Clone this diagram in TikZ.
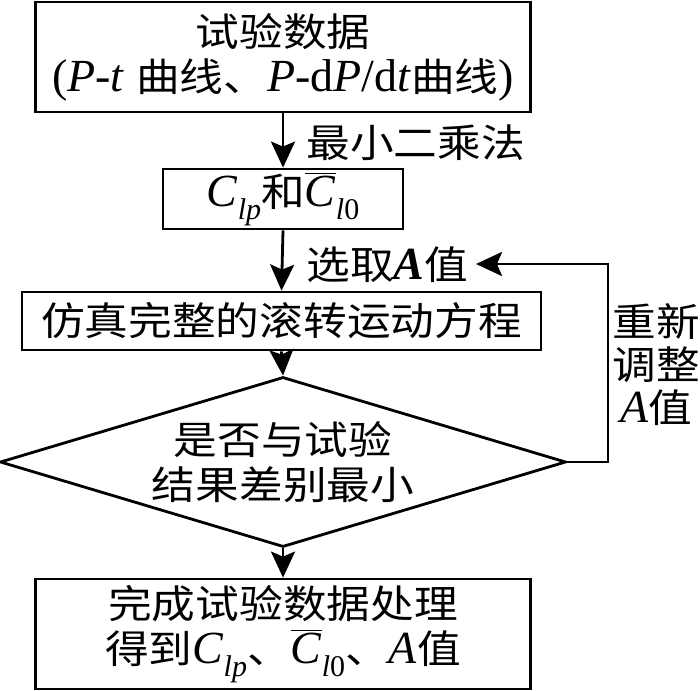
\documentclass[tikz,border=0pt]{standalone}
\usepackage{fontspec}
\setmainfont{Liberation Serif}
\newfontfamily\cjk[FakeStretch=1.12]{Noto Sans CJK SC}
\usetikzlibrary{arrows.meta,shapes.geometric}

\newcommand\lat[1]{{\rmfamily\fontsize{23}{22.5}\selectfont #1}}
\newcommand\Clp{\lat{\textit{C}\raisebox{-0.6ex}{\fontsize{15}{15}\selectfont\textit{lp}}}}
\newcommand\Clo{\lat{$\overline{\mbox{\textit{C}}}$\raisebox{-0.6ex}{\fontsize{15}{15}\selectfont\textit{l}0}}}

\begin{document}
\begin{tikzpicture}[x=0.5pt, y=-0.5pt, line width=1.4pt,
    box/.style={draw, inner sep=0pt, align=center, font=\cjk\fontsize{19.5}{22.5}\selectfont},
    note/.style={inner sep=0pt, align=center, font=\cjk\fontsize{19.5}{21.5}\selectfont},
    link/.style={-{Stealth[length=13pt, width=12pt, inset=2.5pt]}}]
    \useasboundingbox (0,0) rectangle (700,690);
    \pgfmathsetmacro{\mid}{283}
    % main column
    \node[box, minimum width=247.5pt, minimum height=55pt] (data) at (\mid,57)
        {试验数据\\\lat{(\textit{P}-\textit{t} }曲线、\lat{\textit{P}-d\textit{P}/d\textit{t}}曲线\lat{)}};
    \node[box, minimum width=120pt, minimum height=30pt] (coef) at (\mid,199) {\Clp 和\Clo};
    \node[box, minimum width=259.5pt, minimum height=29pt] (sim) at (281.5,321) {仿真完整的滚转运动方程};
    \node[box, diamond, shape aspect=3.3, minimum width=283pt, minimum height=85pt] (check) at (\mid,462)
        {是否与试验\\结果差别最小};
    \node[box, minimum width=247.5pt, minimum height=55pt] (result) at (\mid,634)
        {完成试验数据处理\\得到\Clp、\Clo、\lat{\textit{A}}值};
    \draw[link] (data.south) -- (coef.north);
    \draw[link] (coef.south) -- (sim.north);
    \draw[link] (sim.south) -- (check.north);
    \draw[link] (check.south) -- (result.north);
    % loop back
    \coordinate (turn) at (608,264);
    \coordinate (pick) at (476,264);
    \draw[link] (check.east) -| (turn) -- (pick);
    % labels
    \node[note, anchor=west] (lsq) at (305,143) {最小二乘法};
    \node[note, anchor=west] (pickA) at (305,265) {选取\lat{\textbf{\textit{A}}}值};
    \node[note] (adjust) at (656,365) {重新\\调整\\\lat{\textit{A}}值};
\end{tikzpicture}
\end{document}
